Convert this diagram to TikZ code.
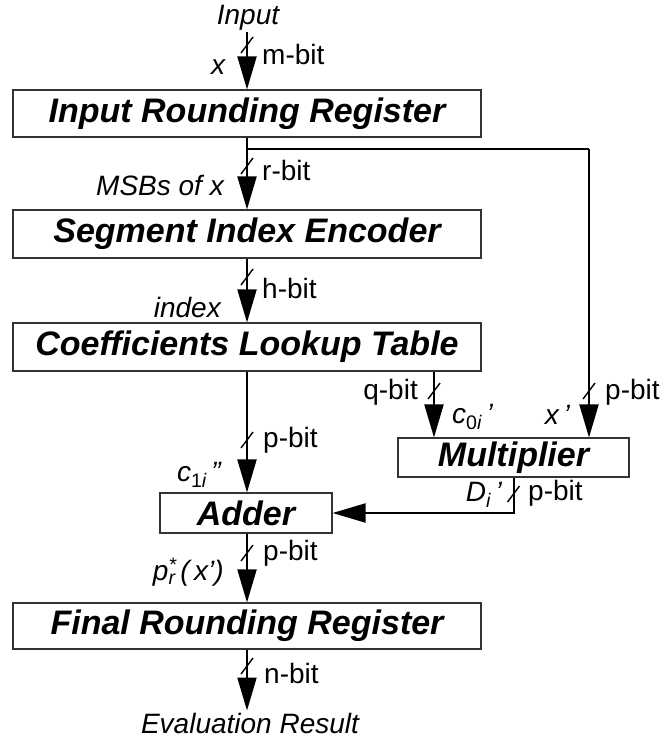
\documentclass[tikz,border=0pt]{standalone}
\usepackage{fontspec}
\setmainfont{Liberation Sans}
\usetikzlibrary{arrows.meta}

\begin{document}
\begin{tikzpicture}[x=1pt,y=-1pt,
  block/.style={draw=black!80,line width=1.1pt,fill=white,inner sep=0pt,
    font=\fontsize{34}{40}\selectfont\bfseries\itshape},
  lbl/.style={inner sep=0pt,font=\fontsize{28}{32}\selectfont},
  sig/.style={lbl,font=\fontsize{28}{32}\selectfont\itshape},
  wire/.style={line width=2pt},
  arr/.style={wire,-{Triangle[length=33pt,width=19pt]}},
  slash/.pic={\draw[line width=1.4pt] (-6,8) -- (6,-8);}
]
\useasboundingbox (0,0) rectangle (663,740);

% processing blocks
\node[block,minimum width=468pt,minimum height=47pt] (irr) at (247,113.5) {Input Rounding Register};
\node[block,minimum width=468pt,minimum height=48pt] (sie) at (247,234) {Segment Index Encoder};
\node[block,minimum width=468pt,minimum height=48pt] (clt) at (247,347) {Coefficients Lookup Table};
\node[block,minimum width=231pt,minimum height=39pt] (mul) at (513.5,457.5) {Multiplier};
\node[block,minimum width=172pt,minimum height=40pt] (add) at (246,513) {Adder};
\node[block,minimum width=468pt,minimum height=46pt] (frr) at (247,626) {Final Rounding Register};

% end points
\node[sig,inner sep=2pt,anchor=base] (in) at (248,24) {Input};
\node[sig,inner sep=2pt] (out) at (250,723) {Evaluation Result};
\coordinate (br) at (247,149);
\coordinate (tr) at (589,149);
\coordinate (qx) at (434,0);

% data paths
\draw[arr] (irr.north |- in.south) -- (irr.north);
\draw[arr] (irr.south) -- (sie.north);
\draw[wire] (br) -- (tr);
\draw[arr] (tr) -- (mul.north -| tr);
\draw[arr] (sie.south) -- (clt.north);
\draw[arr] (clt.south) -- (clt.south |- add.north);
\draw[arr] (clt.south -| qx) -- (mul.north -| qx);
\draw[arr] (mul.south) |- (add.east);
\draw[arr] (frr.north |- add.south) -- (frr.north);
\draw[arr] (frr.south) -- (frr.south |- out.north);

% bus width marks
\pic at (247,45) {slash};
\pic at (247,166) {slash};
\pic at (247,277) {slash};
\pic at (247,440) {slash};
\pic at (434,391) {slash};
\pic at (589,391) {slash};
\pic at (513.5,494) {slash};
\pic at (247,553) {slash};
\pic at (247,666) {slash};

% bit widths
\node[lbl,anchor=west] (wm) at (262,54) {m-bit};
\node[lbl,anchor=west] (wr) at (262,170) {r-bit};
\node[lbl,anchor=west] (wh) at (262,288) {h-bit};
\node[lbl,anchor=west] (wp1) at (263,440) {p-bit};
\node[lbl,anchor=east] (wq) at (418,392) {q-bit};
\node[lbl,anchor=west] (wp2) at (605,392) {p-bit};
\node[lbl,anchor=west] (wp3) at (528,493) {p-bit};
\node[lbl,anchor=west] (wp4) at (263,553) {p-bit};
\node[lbl,anchor=west] (wn) at (264,673) {n-bit};

% signal names
\node[sig] (sx) at (218,67) {x};
\node[sig,anchor=east] (smsb) at (224,185) {MSBs of x};
\node[sig,anchor=east] (sidx) at (221,307) {index};
\node[sig,anchor=east] (sc1) at (221,475) {c\textsubscript{\upshape 1\itshape i}\,''};
\node[sig,anchor=west] (sc0) at (452,417) {c\textsubscript{\upshape 0\itshape i}\,'};
\node[sig,anchor=east] (sxp) at (570,415) {x\,'};
\node[sig,anchor=east] (sd) at (502,495) {D\textsubscript{i}\,'};
\node[sig,anchor=east] (sp) at (224,572) {p\rlap{\textsuperscript{*}}\textsubscript{r}\,(\,x')};
\end{tikzpicture}
\end{document}
